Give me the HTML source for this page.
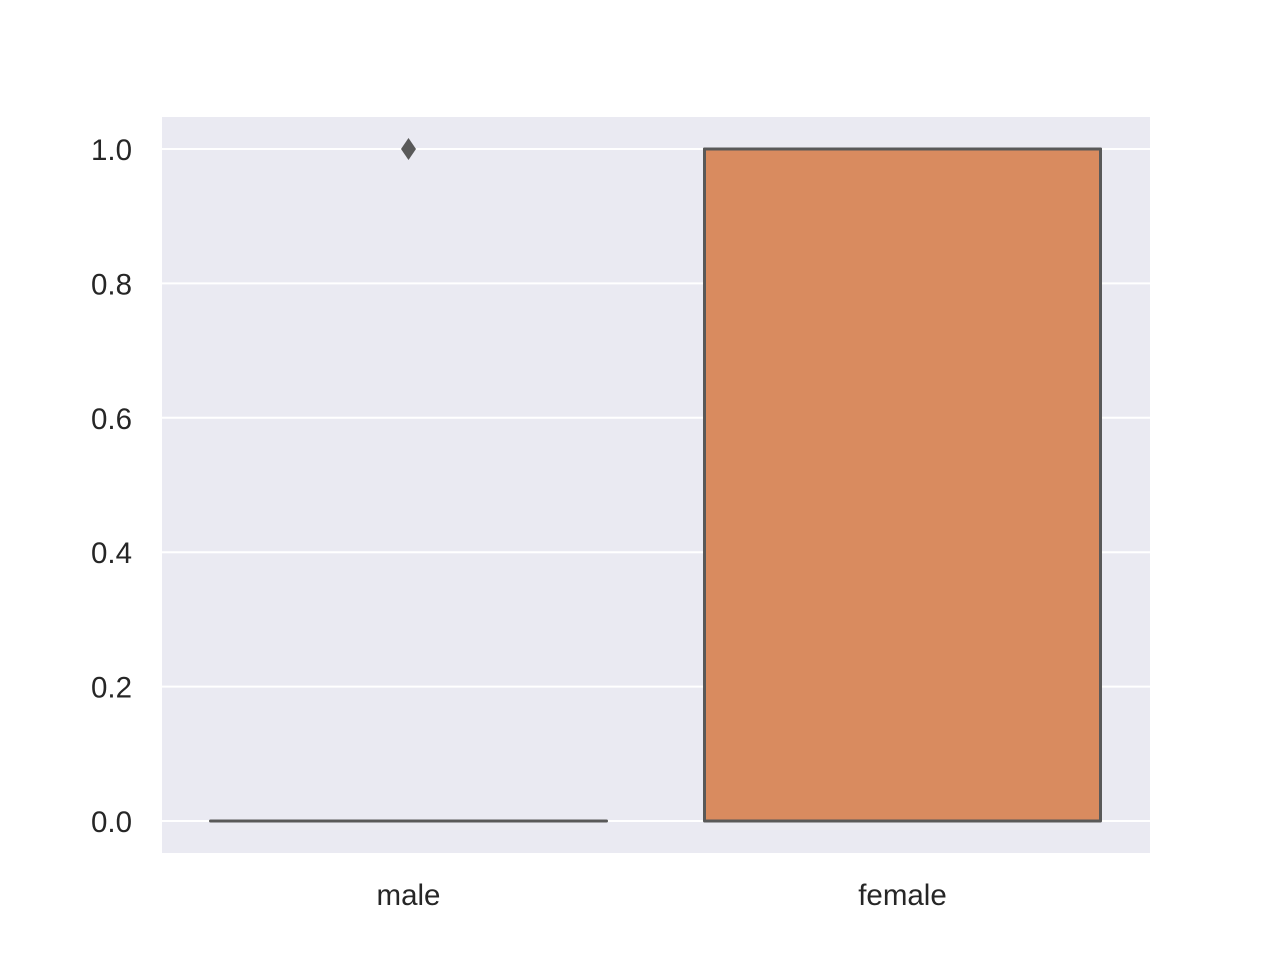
<!DOCTYPE html>
<html><head><meta charset="utf-8"><style>
html,body{margin:0;padding:0;background:#fff;}
svg{display:block;font-family:"Liberation Sans","DejaVu Sans",sans-serif;}
</style></head><body>
<svg id="chart" width="1280" height="960">
<rect x="162" y="117" width="988" height="736" fill="#eaeaf2"/>
<g id="grid"></g><g id="yticks"></g><g id="boxes"></g><g id="xticks"></g>
</svg>
<script>
const categories = ["male", "female"];
const q1 = [0, 0];
const q3 = [0, 1];
const medians = [0, 1];
const whiskerLow = [0, 0];
const whiskerHigh = [0, 1];
const outliers = [[1], []];
const fills = ["#4c72b0", "#d98b5f"];
const yTicks = [0, 0.2, 0.4, 0.6, 0.8, 1.0];
const yTickLabels = ["0.0", "0.2", "0.4", "0.6", "0.8", "1.0"];

const NS = "http://www.w3.org/2000/svg";
const plotL = 162, plotR = 1150;
function yScale(v){ return 821 - v * 672; }
function xCenter(i){ const band = (plotR - plotL) / categories.length; return plotL + band * (i + 0.5) - 0.5; }
const boxW = 396;
function mk(tag, attrs, parent){ const e = document.createElementNS(NS, tag); for (const k in attrs) e.setAttribute(k, attrs[k]); parent.appendChild(e); return e; }

const grid = document.getElementById("grid"), yt = document.getElementById("yticks");
yTicks.forEach((v, i) => {
  const l = mk("line", {x1: plotL, x2: plotR, y1: yScale(v), y2: yScale(v), stroke: "#fff", "stroke-width": 2}, grid);
  
  
  const t = mk("text", {x: 132, y: yScale(v) + 11, "text-anchor": "end", "font-size": 29.5, fill: "#262626"}, yt);
  t.textContent = yTickLabels[i];
  
  
});

const boxes = document.getElementById("boxes"), xt = document.getElementById("xticks");
const ec = "#595959";
categories.forEach((c, i) => {
  const cx = xCenter(i);
  const g = mk("g", {}, boxes);
  
  
  mk("line", {x1: cx, x2: cx, y1: yScale(whiskerLow[i]), y2: yScale(q1[i]), stroke: ec, "stroke-width": 3}, g);
  mk("line", {x1: cx, x2: cx, y1: yScale(q3[i]), y2: yScale(whiskerHigh[i]), stroke: ec, "stroke-width": 3}, g);
  mk("rect", {x: cx - boxW/2, y: yScale(q3[i]), width: boxW, height: Math.max(0, yScale(q1[i]) - yScale(q3[i])), fill: fills[i], stroke: ec, "stroke-width": 3, "stroke-linejoin": "round"}, g);
  mk("line", {x1: cx - boxW/2, x2: cx + boxW/2, y1: yScale(medians[i]), y2: yScale(medians[i]), stroke: ec, "stroke-width": 3, "stroke-linecap": "round"}, g);
  outliers[i].forEach(v => {
    const y = yScale(v);
    const d = mk("path", {d: `M${cx},${y-11} L${cx+7.5},${y} L${cx},${y+11} L${cx-7.5},${y} Z`, fill: ec}, g);
    
    
  });
  const t = mk("text", {x: cx, y: 905, "text-anchor": "middle", "font-size": 29.5, fill: "#262626"}, xt);
  t.textContent = c;
  
  
});
</script>
</body></html>
